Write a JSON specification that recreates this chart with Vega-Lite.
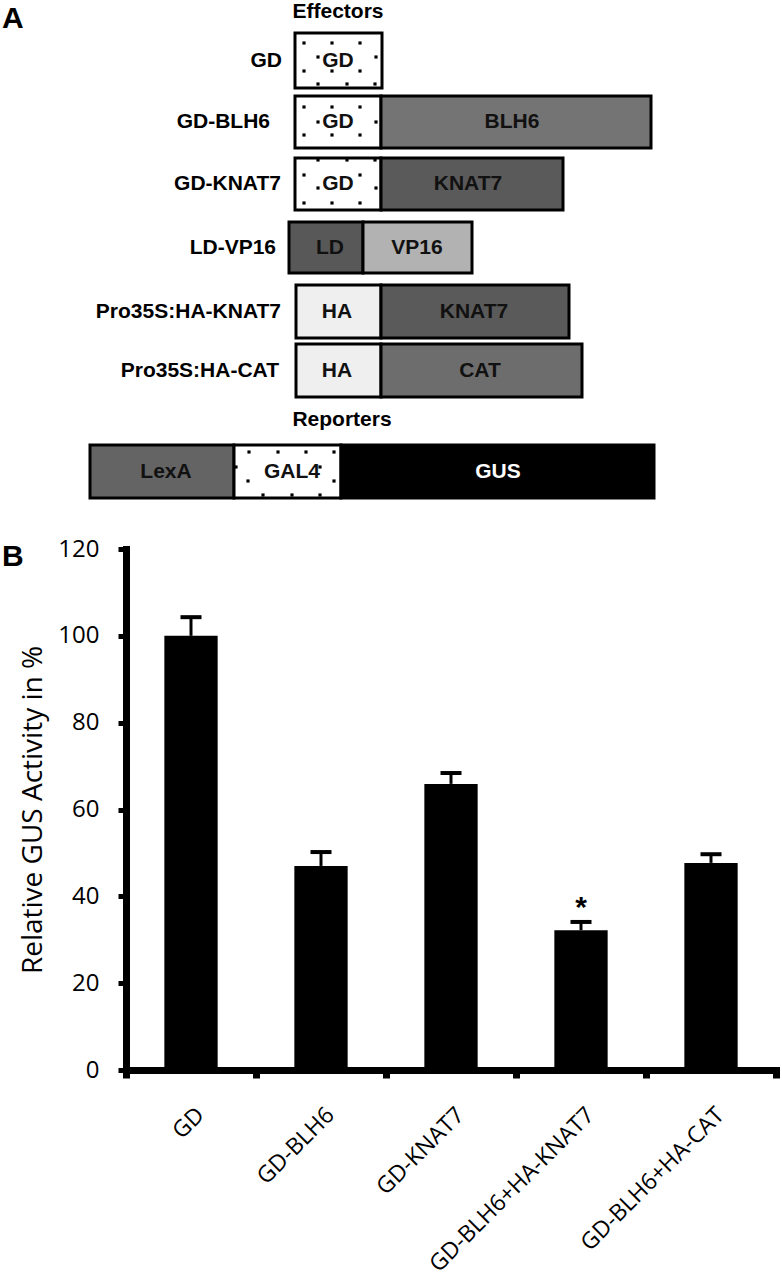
{
  "$schema": "https://vega.github.io/schema/vega-lite/v6.json",
  "background": "white",
  "padding": {"left": 2, "top": 0, "right": 0, "bottom": 0},
  "autosize": {"type": "pad"},
  "bounds": "flush",
  "spacing": 29,
  "config": {"view": {"stroke": null}},
  "datasets": {
    "segments": [
      {"construct": "GD", "part": "GD", "x": 0, "x2": 87, "y": 33, "y2": 88},
      {"construct": "GD-BLH6", "part": "GD", "x": 0, "x2": 86, "y": 96, "y2": 148},
      {"construct": "GD-BLH6", "part": "BLH6", "x": 86, "x2": 356, "y": 96, "y2": 148},
      {"construct": "GD-KNAT7", "part": "GD", "x": 0, "x2": 86, "y": 158, "y2": 210},
      {"construct": "GD-KNAT7", "part": "KNAT7", "x": 86, "x2": 268, "y": 158, "y2": 210},
      {"construct": "LD-VP16", "part": "LD", "x": -6, "x2": 68, "y": 222, "y2": 273},
      {"construct": "LD-VP16", "part": "VP16", "x": 68, "x2": 177, "y": 222, "y2": 273},
      {"construct": "Pro35S:HA-KNAT7", "part": "HA", "x": 1, "x2": 86, "y": 285, "y2": 338},
      {"construct": "Pro35S:HA-KNAT7", "part": "KNAT7", "x": 86, "x2": 274, "y": 285, "y2": 338},
      {"construct": "Pro35S:HA-CAT", "part": "HA", "x": 1, "x2": 86, "y": 344, "y2": 397},
      {"construct": "Pro35S:HA-CAT", "part": "CAT", "x": 86, "x2": 287, "y": 344, "y2": 397},
      {"construct": "Reporter", "part": "LexA", "x": -205, "x2": -61, "y": 445, "y2": 498},
      {"construct": "Reporter", "part": "GAL4", "x": -61, "x2": 46, "y": 445, "y2": 498},
      {"construct": "Reporter", "part": "GUS", "x": 46, "x2": 359, "y": 445, "y2": 498}
    ],
    "dots": [
      {"x": 9, "y": 43}, {"x": 37, "y": 43}, {"x": 65, "y": 43},
      {"x": 23, "y": 57}, {"x": 81, "y": 57},
      {"x": 9, "y": 71}, {"x": 37, "y": 71}, {"x": 65, "y": 71},
      {"x": 23, "y": 84}, {"x": 52, "y": 84}, {"x": 80, "y": 84},
      {"x": 9, "y": 107}, {"x": 37, "y": 107}, {"x": 65, "y": 107},
      {"x": 23, "y": 122}, {"x": 81, "y": 122},
      {"x": 9, "y": 135}, {"x": 37, "y": 135}, {"x": 65, "y": 135},
      {"x": 23, "y": 160}, {"x": 52, "y": 160}, {"x": 80, "y": 160},
      {"x": 9, "y": 175}, {"x": 65, "y": 175},
      {"x": 23, "y": 188}, {"x": 81, "y": 188},
      {"x": 9, "y": 203}, {"x": 37, "y": 203}, {"x": 65, "y": 203},
      {"x": -46, "y": 452}, {"x": -17, "y": 452}, {"x": 11, "y": 452}, {"x": 39, "y": 452},
      {"x": -59, "y": 467}, {"x": 25, "y": 467},
      {"x": -47, "y": 481}, {"x": 39, "y": 481},
      {"x": -32, "y": 495}, {"x": -3, "y": 495}, {"x": 25, "y": 495}
    ],
    "labels": [
      {"kind": "name", "text": "GD", "x": -13, "y": 61},
      {"kind": "name", "text": "GD-BLH6", "x": -25, "y": 122},
      {"kind": "name", "text": "GD-KNAT7", "x": -14, "y": 184},
      {"kind": "name", "text": "LD-VP16", "x": -19, "y": 248},
      {"kind": "name", "text": "Pro35S:HA-KNAT7", "x": -14, "y": 312},
      {"kind": "name", "text": "Pro35S:HA-CAT", "x": -16, "y": 371},
      {"kind": "part", "text": "GD", "x": 43, "y": 61},
      {"kind": "part", "text": "GD", "x": 43, "y": 122},
      {"kind": "part", "text": "BLH6", "x": 217, "y": 122},
      {"kind": "part", "text": "GD", "x": 43, "y": 184},
      {"kind": "part", "text": "KNAT7", "x": 173, "y": 184},
      {"kind": "part", "text": "LD", "x": 35, "y": 248},
      {"kind": "part", "text": "VP16", "x": 122, "y": 248},
      {"kind": "part", "text": "HA", "x": 42, "y": 312},
      {"kind": "part", "text": "KNAT7", "x": 179, "y": 312},
      {"kind": "part", "text": "HA", "x": 42, "y": 371},
      {"kind": "part", "text": "CAT", "x": 185, "y": 371},
      {"kind": "part", "text": "LexA", "x": -129, "y": 472},
      {"kind": "part", "text": "GAL4", "x": -3, "y": 472},
      {"kind": "partwhite", "text": "GUS", "x": 203, "y": 472},
      {"kind": "heading", "text": "Effectors", "x": 43, "y": 12},
      {"kind": "heading", "text": "Reporters", "x": 47, "y": 420},
      {"kind": "panel", "text": "A", "x": -293, "y": 4},
      {"kind": "panel", "text": "B", "x": -293, "y": 542}
    ],
    "activity": [
      {"construct": "GD", "value": 100, "upper": 104.3},
      {"construct": "GD-BLH6", "value": 47.0, "upper": 50.2},
      {"construct": "GD-KNAT7", "value": 65.9, "upper": 68.4},
      {"construct": "GD-BLH6+HA-KNAT7", "value": 32.2, "upper": 34.1, "sig": "*"},
      {"construct": "GD-BLH6+HA-CAT", "value": 47.7, "upper": 49.7}
    ]
  },
  "vconcat": [
    {
      "width": 650,
      "height": 520,
      "encoding": {
        "x": {"field": "x", "type": "quantitative", "scale": {"domain": [-169, 481], "nice": false, "zero": false}, "axis": null},
        "y": {"field": "y", "type": "quantitative", "scale": {"domain": [0, 520], "reverse": true, "nice": false, "zero": false}, "axis": null}
      },
      "layer": [
        {
          "data": {"name": "segments"},
          "mark": {"type": "rect", "stroke": "black", "strokeWidth": 3},
          "encoding": {
            "x2": {"field": "x2"},
            "y2": {"field": "y2"},
            "color": {
              "field": "part", "type": "nominal", "legend": null,
              "scale": {
                "domain": ["GD", "GAL4", "BLH6", "KNAT7", "LD", "VP16", "HA", "CAT", "LexA", "GUS"],
                "range": ["#ffffff", "#ffffff", "#747474", "#5a5a5a", "#585858", "#b2b2b2", "#efefef", "#6d6d6d", "#646464", "#000000"]
              }
            }
          }
        },
        {
          "data": {"name": "dots"},
          "mark": {"type": "point", "shape": "square", "filled": true, "size": 10, "color": "black", "opacity": 1}
        },
        {
          "data": {"name": "labels"},
          "transform": [{"filter": "datum.kind === 'name'"}],
          "mark": {"type": "text", "align": "right", "baseline": "middle", "font": "Liberation Sans", "fontWeight": "bold", "fontSize": 21, "color": "black"},
          "encoding": {"text": {"field": "text"}}
        },
        {
          "data": {"name": "labels"},
          "transform": [{"filter": "datum.kind === 'part'"}],
          "mark": {"type": "text", "align": "center", "baseline": "middle", "font": "Liberation Sans", "fontWeight": "bold", "fontSize": 21, "color": "#111111"},
          "encoding": {"text": {"field": "text"}}
        },
        {
          "data": {"name": "labels"},
          "transform": [{"filter": "datum.kind === 'partwhite'"}],
          "mark": {"type": "text", "align": "center", "baseline": "middle", "font": "Liberation Sans", "fontWeight": "bold", "fontSize": 21, "color": "white"},
          "encoding": {"text": {"field": "text"}}
        },
        {
          "data": {"name": "labels"},
          "transform": [{"filter": "datum.kind === 'heading'"}],
          "mark": {"type": "text", "align": "center", "baseline": "middle", "font": "Liberation Sans", "fontWeight": "bold", "fontSize": 21, "color": "black"},
          "encoding": {"text": {"field": "text"}}
        },
        {
          "data": {"name": "labels"},
          "transform": [{"filter": "datum.kind === 'panel'"}],
          "mark": {"type": "text", "align": "left", "baseline": "top", "font": "Liberation Sans", "fontWeight": "bold", "fontSize": 30, "color": "black"},
          "encoding": {"text": {"field": "text"}}
        }
      ]
    },
    {
      "width": 650,
      "height": 521,
      "data": {"name": "activity"},
      "encoding": {
        "x": {
          "field": "construct", "type": "nominal", "sort": null,
          "scale": {"paddingInner": 0, "paddingOuter": 0},
          "axis": {
            "title": null, "tickBand": "extent",
            "domainColor": "black", "domainWidth": 7, "domainCap": "square",
            "tickColor": "black", "tickSize": 8, "tickWidth": 7,
            "labelAngle": -45, "labelAlign": "right", "labelBaseline": "middle",
            "labelFont": "Open Sans", "labelFontSize": 23, "labelColor": "black",
            "labelPadding": 33, "labelOffset": 9, "labelLimit": 0, "labelOverlap": false
          }
        }
      },
      "layer": [
        {
          "mark": {"type": "bar", "color": "black", "width": {"band": 0.41}},
          "encoding": {
            "y": {
              "field": "value", "type": "quantitative",
              "scale": {"domain": [0, 120], "nice": false},
              "axis": {
                "values": [0, 20, 40, 60, 80, 100, 120], "grid": false,
                "domainColor": "black", "domainWidth": 7, "domainCap": "square",
                "tickColor": "black", "tickSize": 8, "tickWidth": 5,
                "labelFont": "Open Sans", "labelFontSize": 24, "labelColor": "black", "labelPadding": 19,
                "title": "Relative GUS Activity in %", "titleFont": "Open Sans", "titleFontSize": 28,
                "titleFontWeight": "normal", "titleColor": "black", "titlePadding": 10
              }
            }
          }
        },
        {
          "mark": {"type": "rule", "color": "black", "strokeWidth": 3},
          "encoding": {
            "y": {"field": "value", "type": "quantitative"},
            "y2": {"field": "upper"}
          }
        },
        {
          "mark": {"type": "tick", "color": "black", "opacity": 1, "thickness": 4, "size": 21},
          "encoding": {"y": {"field": "upper", "type": "quantitative"}}
        },
        {
          "transform": [{"filter": "datum.sig"}],
          "mark": {"type": "text", "font": "Liberation Sans", "fontWeight": "bold", "fontSize": 30, "baseline": "alphabetic", "dy": -5, "color": "black"},
          "encoding": {
            "y": {"field": "upper", "type": "quantitative"},
            "text": {"field": "sig"}
          }
        }
      ]
    }
  ]
}
